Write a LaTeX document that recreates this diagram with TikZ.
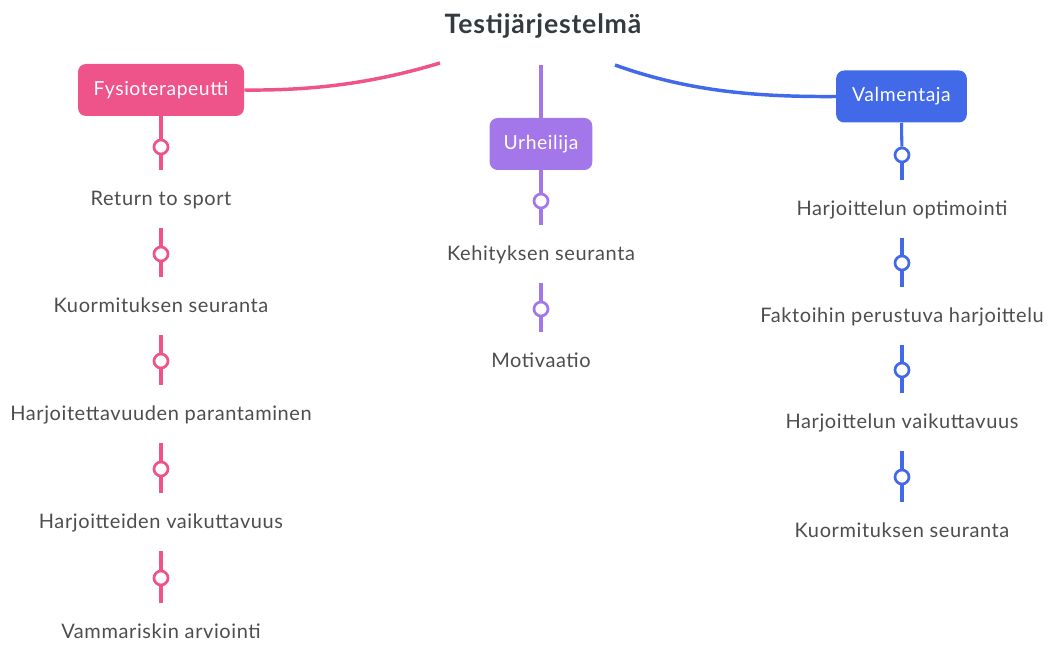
\documentclass[tikz,border=0pt]{standalone}
\usepackage{fontspec}
\setmainfont{Lato}[LetterSpace=3]
\definecolor{pinkc}{HTML}{EE5389}
\definecolor{purplec}{HTML}{A377EA}
\definecolor{bluec}{HTML}{4169E8}
\definecolor{textc}{HTML}{4D4D4D}
\definecolor{titlec}{HTML}{333A40}
\begin{document}
\begin{tikzpicture}[x=0.75pt,y=-0.75pt,
  topic/.style={rounded corners=6pt, fill=#1, text=white, inner sep=0pt,
    minimum height=39pt, font=\fontsize{14.5}{17}\selectfont},
  item/.style={text=textc, inner sep=0pt, text height=13pt, text depth=2pt,
    font=\fontsize{15}{18}\selectfont},
  knob/.style={circle, draw=#1, line width=2pt, fill=white, minimum size=10.5pt, inner sep=0pt},
  stem/.style={draw=#1, line width=2.3pt},
  branch/.style={draw=#1, line width=2.6pt},
  lead/.style={shorten >=13.5pt},
  trail/.style={shorten <=15pt}]
\useasboundingbox (0,0) rectangle (1050,645);

% central topic
\node[text=titlec, font=\fontsize{20}{24}\bfseries] (title) at (543,26) {Testijärjestelmä};
\coordinate (rootP) at (440,63);
\coordinate (rootU) at (541,65);
\coordinate (rootV) at (615,65);

% main branches
\node[topic=pinkc, minimum width=124.5pt] (fysio) at (161,90) {Fysioterapeutti};
\node[topic=purplec, minimum width=77pt] (urh) at (541,144) {Urheilija};
\node[topic=bluec, minimum width=98pt] (valm) at (901.5,96.5) {Valmentaja};

\draw[branch=pinkc] (fysio.east) .. controls (330,91) and (390,78) .. (rootP);
\draw[branch=purplec] (rootU) -- (urh.north);
\draw[branch=bluec] (rootV) .. controls (690,92) and (760,97) .. (valm.west);

% Fysioterapeutti
\node[knob=pinkc] (p1) at (161,147) {};
\node[item] (pt1) at (161,198) {Return to sport};
\node[knob=pinkc] (p2) at (161,254) {};
\node[item] (pt2) at (161,305) {Kuormituksen seuranta};
\node[knob=pinkc] (p3) at (161,361) {};
\node[item] (pt3) at (161,413) {Harjoitettavuuden parantaminen};
\node[knob=pinkc] (p4) at (161,469) {};
\node[item] (pt4) at (161,521) {Harjoitteiden vaikuttavuus};
\node[knob=pinkc] (p5) at (161,578) {};
\node[item] (pt5) at (161,631) {Vammariskin arviointi};

\draw[stem=pinkc] (fysio.south) -- (p1);
\draw[stem=pinkc, lead] (p1) -- (pt1);
\draw[stem=pinkc, trail] (pt1) -- (p2);
\draw[stem=pinkc, lead] (p2) -- (pt2);
\draw[stem=pinkc, trail] (pt2) -- (p3);
\draw[stem=pinkc, lead] (p3) -- (pt3);
\draw[stem=pinkc, trail] (pt3) -- (p4);
\draw[stem=pinkc, lead] (p4) -- (pt4);
\draw[stem=pinkc, trail] (pt4) -- (p5);
\draw[stem=pinkc, lead] (p5) -- (pt5);

% Urheilija
\node[knob=purplec] (u1) at (541,201) {};
\node[item] (ut1) at (541,253) {Kehityksen seuranta};
\node[knob=purplec] (u2) at (541,309) {};
\node[item] (ut2) at (541,360) {Motivaatio};
\draw[stem=purplec] (urh.south) -- (u1);
\draw[stem=purplec, lead] (u1) -- (ut1);
\draw[stem=purplec, trail] (ut1) -- (u2);
\draw[stem=purplec, lead] (u2) -- (ut2);

% Valmentaja
\node[knob=bluec] (v1) at (902,155) {};
\node[item] (vt1) at (902,208) {Harjoittelun optimointi};
\node[knob=bluec] (v2) at (902,263) {};
\node[item] (vt2) at (902,315) {Faktoihin perustuva harjoittelu};
\node[knob=bluec] (v3) at (902,370) {};
\node[item] (vt3) at (902,421) {Harjoittelun vaikuttavuus};
\node[knob=bluec] (v4) at (902,477) {};
\node[item] (vt4) at (902,530) {Kuormituksen seuranta};
\draw[stem=bluec] (valm.south) -- (v1);
\draw[stem=bluec, lead] (v1) -- (vt1);
\draw[stem=bluec, trail] (vt1) -- (v2);
\draw[stem=bluec, lead] (v2) -- (vt2);
\draw[stem=bluec, trail] (vt2) -- (v3);
\draw[stem=bluec, lead] (v3) -- (vt3);
\draw[stem=bluec, trail] (vt3) -- (v4);
\draw[stem=bluec, lead] (v4) -- (vt4);
\end{tikzpicture}
\end{document}
